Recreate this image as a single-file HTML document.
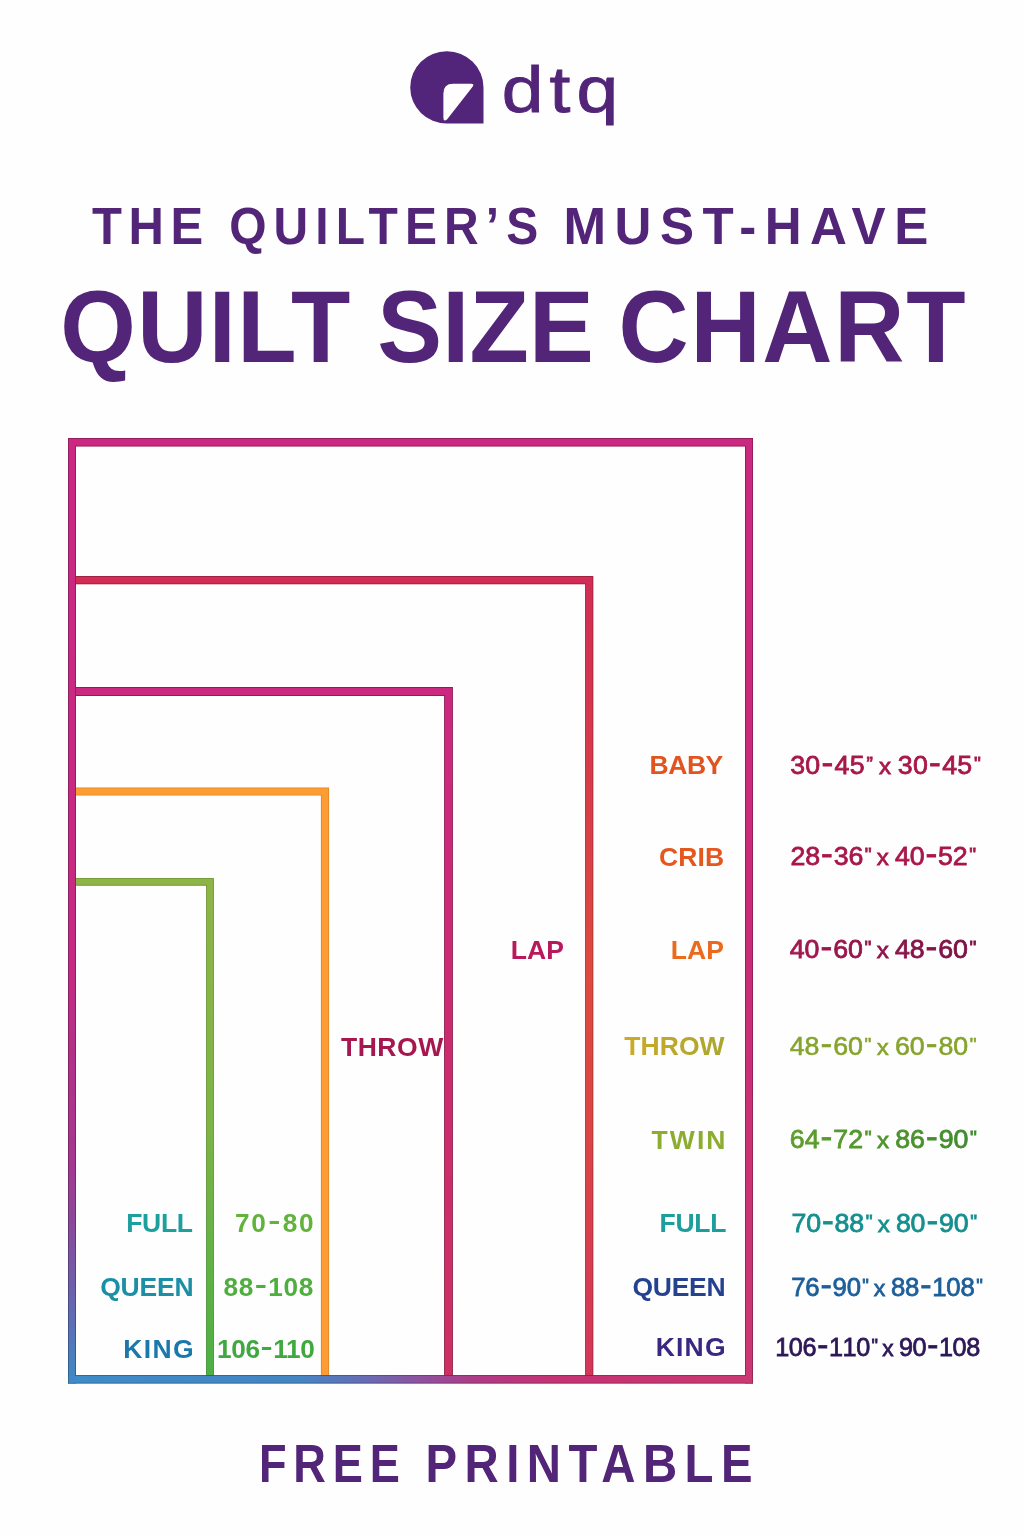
<!DOCTYPE html>
<html lang="en">
<head>
<meta charset="utf-8">
<title>The Quilter's Must-Have Quilt Size Chart</title>
<style>
html,body{margin:0;padding:0;background:#fefefe;}
body{width:1024px;height:1536px;overflow:hidden;}
svg{display:block;}
text{font-family:"Liberation Sans",sans-serif;white-space:pre;}
</style>
</head>
<body>
<svg width="1024" height="1536" viewBox="0 0 1024 1536">
<defs>
<linearGradient id="gLeft" gradientUnits="userSpaceOnUse" x1="0" y1="438" x2="0" y2="1384">
<stop offset="0" stop-color="#cb2981"/>
<stop offset="0.56" stop-color="#c52b84"/>
<stop offset="0.647" stop-color="#b53088"/>
<stop offset="0.763" stop-color="#a6378f"/>
<stop offset="0.834" stop-color="#8a4a9d"/>
<stop offset="0.904" stop-color="#6b62ae"/>
<stop offset="0.975" stop-color="#4a80c0"/>
<stop offset="1" stop-color="#3d8cc8"/>
</linearGradient>
<linearGradient id="gBottom" gradientUnits="userSpaceOnUse" x1="68" y1="0" x2="753" y2="0">
<stop offset="0" stop-color="#3e8cc8"/>
<stop offset="0.34" stop-color="#4585c4"/>
<stop offset="0.44" stop-color="#6a6ab3"/>
<stop offset="0.514" stop-color="#8e529f"/>
<stop offset="0.60" stop-color="#b03a85"/>
<stop offset="0.72" stop-color="#c63272"/>
<stop offset="1" stop-color="#cb3873"/>
</linearGradient>
<linearGradient id="gRight" gradientUnits="userSpaceOnUse" x1="0" y1="438" x2="0" y2="1384">
<stop offset="0" stop-color="#cb2981"/>
<stop offset="0.5" stop-color="#c92b78"/>
<stop offset="1" stop-color="#cb3873"/>
</linearGradient>
<linearGradient id="gRed" gradientUnits="userSpaceOnUse" x1="0" y1="576" x2="0" y2="1376">
<stop offset="0" stop-color="#d12d55"/>
<stop offset="0.5" stop-color="#de4a3f"/>
<stop offset="0.7" stop-color="#dc4545"/>
<stop offset="1" stop-color="#d4365a"/>
</linearGradient>
<linearGradient id="gGreen" gradientUnits="userSpaceOnUse" x1="0" y1="878" x2="0" y2="1376">
<stop offset="0" stop-color="#8db546"/>
<stop offset="0.5" stop-color="#7db445"/>
<stop offset="1" stop-color="#4cb043"/>
</linearGradient>
<linearGradient id="gThrow" x1="0" y1="0" x2="1" y2="0">
<stop offset="0" stop-color="#cdaa27"/>
<stop offset="1" stop-color="#a9a72f"/>
</linearGradient>
<linearGradient id="gD3" x1="0" y1="0" x2="1" y2="0">
<stop offset="0" stop-color="#a3174f"/>
<stop offset="1" stop-color="#7a1244"/>
</linearGradient>
<linearGradient id="gD5" x1="0" y1="0" x2="1" y2="0">
<stop offset="0" stop-color="#5f9e2b"/>
<stop offset="1" stop-color="#3e8a2e"/>
</linearGradient>
<linearGradient id="gMag" gradientUnits="userSpaceOnUse" x1="0" y1="688" x2="0" y2="1376">
<stop offset="0" stop-color="#cb2981"/>
<stop offset="0.5" stop-color="#cb2a70"/>
<stop offset="1" stop-color="#cc3062"/>
</linearGradient>

</defs>
<rect x="0" y="0" width="1024" height="1536" fill="#fefefe"/>
<!-- logo mark -->
<path d="M446.75 51.25 A36.5 36.1 0 0 1 483.5 87.4 L483.5 123.5 L446.75 123.5 A36.5 36.1 0 0 1 446.75 51.25 Z" fill="#53257a"/>
<path d="M443.4 93.5 Q443.4 83.8 453 83.8 L471.2 83.8 Q474.6 83.8 472.6 86.8 L447.2 119.2 Q443.4 122.6 443.4 117.5 Z" fill="#fefefe"/>
<!-- nested quilt outlines -->
<path id="rGreen" d="M75 881.8 L210 881.8 L210 1377" fill="none" stroke="url(#gGreen)" stroke-width="7.8"/>
<path d="M75 881.8 L210 881.8 L210 1377" fill="none" stroke="#000" stroke-opacity="0.18" stroke-width="7.8"/>
<path d="M75 881.8 L210 881.8 L210 1377" fill="none" stroke="url(#gGreen)" stroke-width="6.00"/>
<path id="rOrange" d="M75 791.5 L325 791.5 L325 1377" fill="none" stroke="#fd9c32" stroke-width="8.2"/>
<path d="M75 791.5 L325 791.5 L325 1377" fill="none" stroke="#000" stroke-opacity="0.12" stroke-width="8.2"/>
<path d="M75 791.5 L325 791.5 L325 1377" fill="none" stroke="#fd9c32" stroke-width="6.40"/>
<path id="rMagenta" d="M75 691.5 L448.5 691.5 L448.5 1377" fill="none" stroke="url(#gMag)" stroke-width="8.8"/>
<path d="M75 691.5 L448.5 691.5 L448.5 1377" fill="none" stroke="#000" stroke-opacity="0.3" stroke-width="8.8"/>
<path d="M75 691.5 L448.5 691.5 L448.5 1377" fill="none" stroke="url(#gMag)" stroke-width="7.00"/>
<path id="rRed" d="M75 580.1 L589.2 580.1 L589.2 1377" fill="none" stroke="url(#gRed)" stroke-width="8.2"/>
<path d="M75 580.1 L589.2 580.1 L589.2 1377" fill="none" stroke="#000" stroke-opacity="0.24" stroke-width="8.2"/>
<path d="M75 580.1 L589.2 580.1 L589.2 1377" fill="none" stroke="url(#gRed)" stroke-width="6.40"/>
<!-- outer frame -->
<rect x="68.00" y="438.00" width="685.00" height="8.50" fill="#cb2981"/>
<rect x="745.00" y="438.00" width="8.00" height="945.60" fill="url(#gRight)"/>
<rect x="68.00" y="1375.10" width="685.00" height="8.50" fill="url(#gBottom)"/>
<rect x="68.00" y="438.00" width="8.00" height="945.60" fill="url(#gLeft)"/>
<path fill-rule="evenodd" fill="#000" fill-opacity="0.3" d="M68 438H753V1383.6H68Z M76 446.5H745V1375.1H76Z"/>
<rect x="68.90" y="438.90" width="683.20" height="6.70" fill="#cb2981"/>
<rect x="745.90" y="438.90" width="6.20" height="943.80" fill="url(#gRight)"/>
<rect x="68.90" y="1376.00" width="683.20" height="6.70" fill="url(#gBottom)"/>
<rect x="68.90" y="438.90" width="6.20" height="943.80" fill="url(#gLeft)"/>

<g>
<g id="t1" font-size="52.70" font-weight="700" fill="#522579">
<text id="t1a" transform="translate(91.99 243.75) scale(0.93 1)" letter-spacing="7.031">THE</text>
<text id="t1b" transform="translate(229.21 243.75) scale(0.91 1)" letter-spacing="7.792">QUILTER’S</text>
<text id="t1c" transform="translate(563.54 243.75) scale(0.97 1)" letter-spacing="8.696">MUST-HAVE</text>
</g>
<g id="t2" font-size="102.30" font-weight="700" fill="#522579">
<text id="t2a" transform="translate(60.22 361.50) scale(0.95 1)" letter-spacing="1.517">QUILT</text>
<text id="t2b" transform="translate(377.37 361.50) scale(0.95 1)" letter-spacing="0.141">SIZE</text>
<text id="t2c" transform="translate(618.55 361.50) scale(0.95 1)" letter-spacing="1.819">CHART</text>
</g>
<g id="t3" font-size="53.80" font-weight="700" fill="#522579">
<text id="t3a" transform="translate(258.89 1482.00) scale(0.84 1)" letter-spacing="8.148">FREE</text>
<text id="t3b" transform="translate(425.47 1482.00) scale(0.88 1)" letter-spacing="8.483">PRINTABLE</text>
</g>
<text id="dtq" transform="translate(501.68 112.45) scale(1.16 1)" font-size="64.60" font-weight="400" letter-spacing="5.284" fill="#522579" stroke="#522579" stroke-width="0.9" stroke-linejoin="miter">dtq</text>
<text id="rl1" transform="translate(649.51 773.75)" font-size="26.50" font-weight="700" letter-spacing="-0.449" fill="#e2541f">BABY</text>
<text id="rl2" transform="translate(658.94 866.00)" font-size="26.50" font-weight="700" letter-spacing="0.173" fill="#e4571f">CRIB</text>
<text id="rl3" transform="translate(670.79 959.00)" font-size="26.50" font-weight="700" letter-spacing="0.107" fill="#ea6b1e">LAP</text>
<text id="rl4" transform="translate(624.16 1055.00)" font-size="26.50" font-weight="700" letter-spacing="0.085" fill="url(#gThrow)">THROW</text>
<text id="rl5" transform="translate(651.60 1148.75)" font-size="26.50" font-weight="700" letter-spacing="2.064" fill="#8cad30">TWIN</text>
<text id="rl6" transform="translate(659.51 1232.00)" font-size="26.50" font-weight="700" letter-spacing="-0.288" fill="#1c9e9c">FULL</text>
<text id="rl7" transform="translate(632.48 1295.75)" font-size="26.50" font-weight="700" letter-spacing="-0.301" fill="#24428f">QUEEN</text>
<text id="rl8" transform="translate(655.79 1355.75)" font-size="26.50" font-weight="700" letter-spacing="1.157" fill="#3a2782">KING</text>
<text id="d1" transform="translate(790.24 773.62) scale(1.07 1)" font-size="25.00" font-weight="400" letter-spacing="0.221" fill="#a8174a" stroke="#a8174a" stroke-width="0.75" stroke-linejoin="miter">30<tspan font-size="33.0" dx="1.00">-</tspan><tspan dx="1.00">4</tspan>5<tspan font-size="18" dy="-4.0" dx="1.60">”</tspan> <tspan font-size="22.5" dx="-1.80" dy="4.0">x</tspan> <tspan dx="-1.00">3</tspan>0<tspan font-size="33.0" dx="1.00">-</tspan><tspan dx="1.00">4</tspan>5<tspan font-size="18" dy="-4.0" dx="1.60">&quot;</tspan></text>
<text id="d2" transform="translate(790.57 865.38) scale(1.07 1)" font-size="25.00" font-weight="400" letter-spacing="-0.155" fill="#a8174a" stroke="#a8174a" stroke-width="0.75" stroke-linejoin="miter">28<tspan font-size="33.0" dx="1.00">-</tspan><tspan dx="1.00">3</tspan>6<tspan font-size="18" dy="-4.0" dx="1.60">&quot;</tspan> <tspan font-size="22.5" dx="-1.80" dy="4.0">x</tspan> <tspan dx="-1.00">4</tspan>0<tspan font-size="33.0" dx="1.00">-</tspan><tspan dx="1.00">5</tspan>2<tspan font-size="18" dy="-4.0" dx="1.60">&quot;</tspan></text>
<text id="d3" transform="translate(789.80 958.12) scale(1.07 1)" font-size="25.00" font-weight="400" letter-spacing="-0.082" fill="url(#gD3)" stroke="url(#gD3)" stroke-width="0.75" stroke-linejoin="miter">40<tspan font-size="33.0" dx="1.00">-</tspan><tspan dx="1.00">6</tspan>0<tspan font-size="18" dy="-4.0" dx="1.60">&quot;</tspan> <tspan font-size="22.5" dx="-1.80" dy="4.0">x</tspan> <tspan dx="-1.00">4</tspan>8<tspan font-size="33.0" dx="1.00">-</tspan><tspan dx="1.00">6</tspan>0<tspan font-size="18" dy="-4.0" dx="1.60">&quot;</tspan></text>
<text id="d4" transform="translate(789.78 1054.72) scale(1.07 1)" font-size="25.00" font-weight="400" letter-spacing="-0.065" fill="#86a42c" stroke="#86a42c" stroke-width="0.55" stroke-linejoin="miter">48<tspan font-size="33.0" dx="1.00">-</tspan><tspan dx="1.00">6</tspan>0<tspan font-size="18" dy="-4.0" dx="1.60">&quot;</tspan> <tspan font-size="22.5" dx="-1.80" dy="4.0">x</tspan> <tspan dx="-1.00">6</tspan>0<tspan font-size="33.0" dx="1.00">-</tspan><tspan dx="1.00">8</tspan>0<tspan font-size="18" dy="-4.0" dx="1.60">&quot;</tspan></text>
<text id="d5" transform="translate(789.85 1148.38) scale(1.07 1)" font-size="25.00" font-weight="400" letter-spacing="-0.055" fill="url(#gD5)" stroke="url(#gD5)" stroke-width="0.75" stroke-linejoin="miter">64<tspan font-size="33.0" dx="1.00">-</tspan><tspan dx="1.00">7</tspan>2<tspan font-size="18" dy="-4.0" dx="1.60">&quot;</tspan> <tspan font-size="22.5" dx="-1.80" dy="4.0">x</tspan> <tspan dx="-1.00">8</tspan>6<tspan font-size="33.0" dx="1.00">-</tspan><tspan dx="1.00">9</tspan>0<tspan font-size="18" dy="-4.0" dx="1.60">&quot;</tspan></text>
<text id="d6" transform="translate(791.43 1231.62) scale(1.07 1)" font-size="25.00" font-weight="400" letter-spacing="-0.147" fill="#158f8e" stroke="#158f8e" stroke-width="0.75" stroke-linejoin="miter">70<tspan font-size="33.0" dx="1.00">-</tspan><tspan dx="1.00">8</tspan>8<tspan font-size="18" dy="-4.0" dx="1.60">&quot;</tspan> <tspan font-size="22.5" dx="-1.80" dy="4.0">x</tspan> <tspan dx="-1.00">8</tspan>0<tspan font-size="33.0" dx="1.00">-</tspan><tspan dx="1.00">9</tspan>0<tspan font-size="18" dy="-4.0" dx="1.60">&quot;</tspan></text>
<text id="d7" transform="translate(791.30 1295.62) scale(1.03 1)" font-size="25.00" font-weight="400" letter-spacing="-0.239" fill="#1c5f9a" stroke="#1c5f9a" stroke-width="0.75" stroke-linejoin="miter">76<tspan font-size="33.0" dx="1.00">-</tspan><tspan dx="1.00">9</tspan>0<tspan font-size="18" dy="-4.0" dx="1.60">&quot;</tspan> <tspan font-size="22.5" dx="-1.80" dy="4.0">x</tspan> <tspan dx="-1.00">8</tspan>8<tspan font-size="33.0" dx="1.00">-</tspan><tspan dx="1.00">1</tspan>08<tspan font-size="18" dy="-4.0" dx="1.60">&quot;</tspan></text>
<text id="d8" transform="translate(775.22 1355.62) scale(1.01 1)" font-size="25.00" font-weight="400" letter-spacing="-0.387" fill="#2d1757" stroke="#2d1757" stroke-width="0.75" stroke-linejoin="miter">106<tspan font-size="33.0" dx="1.00">-</tspan><tspan dx="1.00">1</tspan>10<tspan font-size="18" dy="-4.0" dx="1.60">&quot;</tspan> <tspan font-size="22.5" dx="-1.80" dy="4.0">x</tspan> <tspan dx="-1.00">9</tspan>0<tspan font-size="33.0" dx="1.00">-</tspan><tspan dx="1.00">1</tspan>08</text>
<text id="il1" transform="translate(510.79 959.25)" font-size="26.50" font-weight="700" letter-spacing="0.107" fill="#b8195a">LAP</text>
<text id="il2" transform="translate(340.95 1056.25)" font-size="26.50" font-weight="700" letter-spacing="0.534" fill="#a6174f">THROW</text>
<text id="ll1" transform="translate(126.25 1231.75)" font-size="26.50" font-weight="700" letter-spacing="-0.341" fill="#1ca09e">FULL</text>
<text id="ll2" transform="translate(100.13 1295.50)" font-size="26.50" font-weight="700" letter-spacing="-0.211" fill="#1b8fa5">QUEEN</text>
<text id="ll3" transform="translate(123.25 1357.50)" font-size="26.50" font-weight="700" letter-spacing="1.340" fill="#1a78ab">KING</text>
<text id="ln1" transform="translate(235.02 1232.00)" font-size="26.20" font-weight="700" letter-spacing="1.606" fill="#62b23b">70<tspan font-size="38.0" font-weight="400" dy="1.3" dx="0.60">-</tspan><tspan dx="0.60" dy="-1.3">8</tspan>0</text>
<text id="ln2" transform="translate(223.56 1295.50)" font-size="26.20" font-weight="700" letter-spacing="0.604" fill="#4eae3e">88<tspan font-size="38.0" font-weight="400" dy="1.3" dx="0.60">-</tspan><tspan dx="0.60" dy="-1.3">1</tspan>08</text>
<text id="ln3" transform="translate(216.99 1357.50)" font-size="26.20" font-weight="700" letter-spacing="-0.310" fill="#3fa83f">106<tspan font-size="38.0" font-weight="400" dy="1.3" dx="0.60">-</tspan><tspan dx="0.60" dy="-1.3">1</tspan>10</text>
</g>
</svg>
</body>
</html>
